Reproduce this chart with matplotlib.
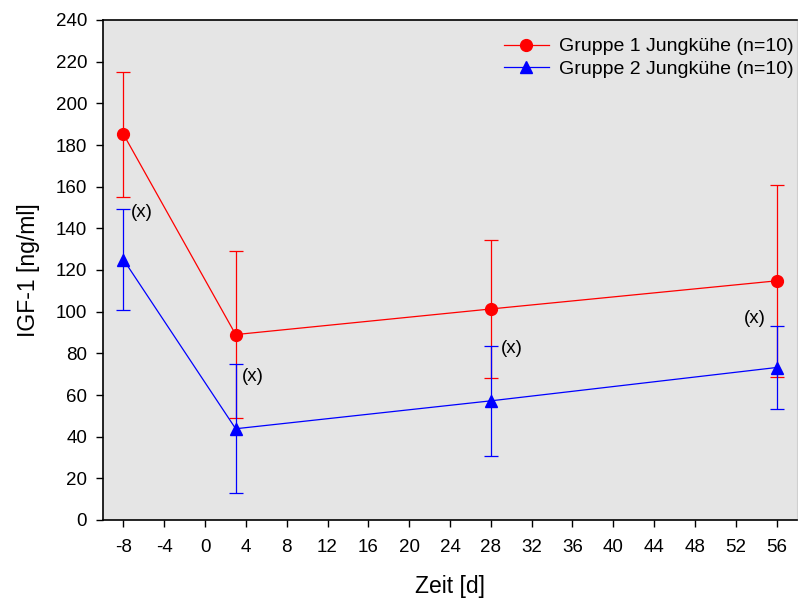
import matplotlib
matplotlib.use("Agg")
import matplotlib.pyplot as plt

# data
days = [-8, 3, 28, 56]
group1_mean = [185.2, 89.0, 101.3, 114.8]
group1_err = [30.0, 40.0, 33.0, 46.0]
group2_mean = [125.0, 43.8, 57.2, 73.2]
group2_err = [24.4, 31.0, 26.5, 19.7]
group1_label = "Gruppe 1 Jungkühe (n=10)"
group2_label = "Gruppe 2 Jungkühe (n=10)"
note_text = "(x)"
x_ticks = list(range(-8, 57, 4))
y_ticks = list(range(0, 241, 20))

plt.rcParams["font.family"] = ["Liberation Sans", "DejaVu Sans"]
plt.rcParams["axes.unicode_minus"] = False

fig = plt.figure(figsize=(7.98, 6.01), dpi=100)
ax = fig.add_axes([103 / 798, 1 - 520 / 601, 694 / 798, 500 / 601])
ax.set_facecolor("#e5e5e5")

eb1 = ax.errorbar(days, group1_mean, yerr=group1_err, color="#ff0000", marker="o",
                  markersize=8.5, linewidth=0.9, elinewidth=0.9, capsize=5,
                  capthick=0.9, zorder=3)
eb2 = ax.errorbar(days, group2_mean, yerr=group2_err, color="#0000ff", marker="^",
                  markersize=8.5, linewidth=0.9, elinewidth=0.9, capsize=5,
                  capthick=0.9, zorder=4)

# "(x)" notes next to the upper caps of group 2
offsets = [(7, -4, "left"), (6, -12, "left"), (10, -3, "left"), (-11, 8, "right")]
for d, m, e, (dx, dy, ha) in zip(days, group2_mean, group2_err, offsets):
    ax.annotate(note_text, (d, m + e), xytext=(dx, dy), textcoords="offset pixels",
                ha=ha, va="center", fontsize=13.5)

ax.set_xlim(-10, 58)
ax.set_ylim(0, 240)
ax.set_xticks(x_ticks)
ax.set_yticks(y_ticks)
ax.tick_params(axis="both", direction="out", length=5, width=1, labelsize=13.5)
ax.tick_params(axis="x", pad=9)
ax.tick_params(axis="y", pad=6.5)

for side in ["left", "bottom", "top"]:
    ax.spines[side].set_color("black")
    ax.spines[side].set_linewidth(1.2)
ax.spines["right"].set_color("#d0d0d0")

ax.set_xlabel("Zeit [d]", fontsize=16.5, labelpad=13)
ax.set_ylabel("IGF-1 [ng/ml]", fontsize=16.5, labelpad=11)

ax.legend([eb1[0], eb2[0]], [group1_label, group2_label], loc="upper right",
          bbox_to_anchor=(1.004, 0.976), frameon=False, fontsize=14,
          handlelength=2.3, handletextpad=0.55, labelspacing=0.25,
          borderaxespad=0, borderpad=0.3)

fig.savefig("out.png", dpi=100)
